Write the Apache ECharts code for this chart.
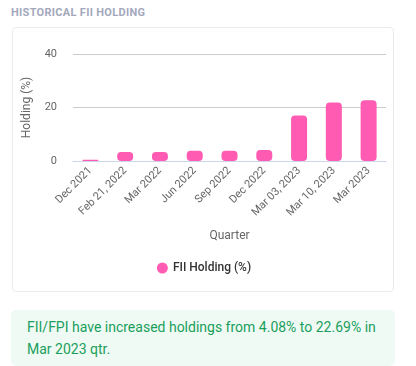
<!DOCTYPE html>
<html><head><meta charset="utf-8">
<script src="https://cdn.jsdelivr.net/npm/echarts@6/dist/echarts.min.js"></script>
<style>
html,body{margin:0;padding:0;background:#fff;width:416px;height:366px;overflow:hidden;font-family:Roboto,"Noto Sans",sans-serif;}
#title{position:absolute;left:11px;top:6px;font-size:11px;font-weight:700;color:#a3a8bc;letter-spacing:0.3px;}
#card{position:absolute;left:12px;top:27px;width:382px;height:265px;border:1px solid #ebebeb;border-radius:4px;box-sizing:border-box;}
#chart{position:absolute;left:0;top:0;width:382px;height:265px;}
#note{position:absolute;left:11px;top:310px;width:384px;height:56px;background:#effaf5;border-radius:5px;color:#1a9f5b;font-size:14px;line-height:22px;box-sizing:border-box;padding:6px 14px 6px 16px;}
</style></head>
<body>
<div id="title">HISTORICAL FII HOLDING</div>
<div id="card"><div id="chart"></div></div>
<div id="note">FII/FPI have increased holdings from 4.08% to 22.69% in Mar 2023 qtr.</div>
<script>
var categories = ["Dec 2021","Feb 21, 2022","Mar 2022","Jun 2022","Sep 2022","Dec 2022","Mar 03, 2023","Mar 10, 2023","Mar 2023"];
var holding = [0.5, 3.4, 3.35, 3.8, 3.85, 4.08, 17.0, 21.9, 22.69];
var yTicks = [0, 20, 40];
var chart = echarts.init(document.getElementById('chart'));
chart.setOption({
  animation:false,
  textStyle:{fontFamily:'Roboto'},
  grid:{left:60,right:9,top:26,bottom:132},
  legend:{top:229,left:'center',icon:'circle',itemWidth:11,itemHeight:11,itemGap:8,
    textStyle:{fontSize:12,fontWeight:500,color:'#333'},data:['FII Holding (%)']},
  xAxis:{type:'category',data:categories,
    name:'Quarter',nameLocation:'middle',nameGap:69,nameTextStyle:{fontSize:12,color:'#666'},
    axisLine:{lineStyle:{color:'#ccd6eb'}},axisTick:{show:false},
    axisLabel:{rotate:45,fontSize:11,color:'#666',margin:8,interval:0}},
  yAxis:{type:'value',min:0,max:40,interval:20,
    name:'Holding (%)',nameLocation:'middle',nameGap:40,nameTextStyle:{fontSize:12,color:'#666'},
    axisLabel:{fontSize:11,color:'#666',margin:16,formatter:function(v){return yTicks.indexOf(v)>=0?String(v):'';}},
    splitLine:{lineStyle:{color:'#cccccc'}},axisLine:{show:false},axisTick:{show:false}},
  series:[{name:'FII Holding (%)',type:'bar',data:holding,barWidth:16,
    itemStyle:{color:'#ff5bb2',borderRadius:4}}]
});
</script>
</body></html>
